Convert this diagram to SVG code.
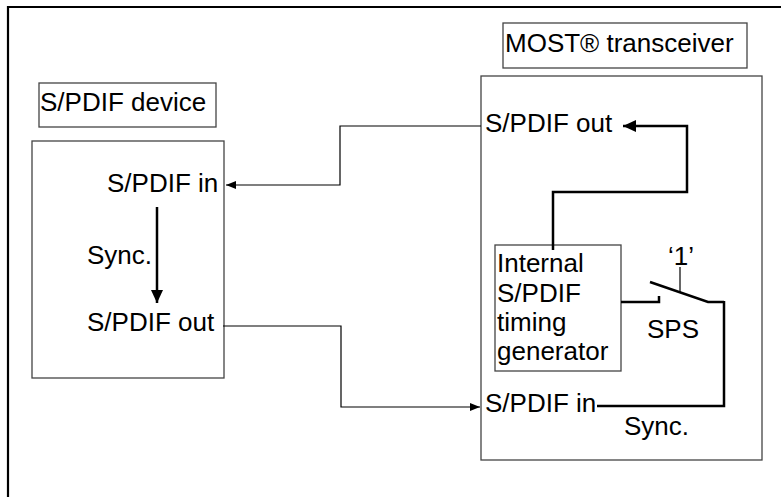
<svg xmlns="http://www.w3.org/2000/svg" width="781" height="497" viewBox="0 0 781 497">
<style>
text{font-family:"Liberation Sans",Arial,sans-serif;font-size:26px;fill:#000}
.box{fill:none;stroke:#444;stroke-width:1.3}
.thin{fill:none;stroke:#000;stroke-width:1.2}
.thick{fill:none;stroke:#000;stroke-width:2.5}
</style>
<defs>
<marker id="ah" markerWidth="10" markerHeight="8" refX="10" refY="4" orient="auto" markerUnits="userSpaceOnUse"><path d="M0,0 L10,4 L0,8 Z" fill="#000"/></marker>
<marker id="ahb" markerWidth="13" markerHeight="12" refX="13" refY="6" orient="auto" markerUnits="userSpaceOnUse"><path d="M0,0 L13,6 L0,12 Z" fill="#000"/></marker>
</defs>
<rect width="781" height="497" fill="#fff"/>
<path d="M8,497 V7 H781" fill="none" stroke="#000" stroke-width="2.2"/>
<g id="device-label"><rect class="box" x="39" y="83" width="177" height="44"/><text x="40" y="111">S/PDIF device</text></g>
<g id="device"><rect class="box" x="32" y="141" width="192" height="237"/>
<text x="107" y="192">S/PDIF in</text>
<text x="87" y="264">Sync.</text>
<text x="87" y="331">S/PDIF out</text></g>
<g id="transceiver-label"><rect class="box" x="503" y="23" width="244" height="45"/><text x="505" y="52">MOST® transceiver</text></g>
<g id="transceiver"><rect class="box" x="481" y="76" width="281" height="384"/>
<text x="485" y="132">S/PDIF out</text>
<text x="485" y="412">S/PDIF in</text>
<text x="624" y="435">Sync.</text>
<text x="647" y="338">SPS</text>
<text x="668" y="265">‘1’</text></g>
<g id="timing-generator"><rect class="box" x="495" y="245" width="126" height="126"/>
<text x="497" y="272">Internal</text>
<text x="497" y="302">S/PDIF</text>
<text x="497" y="331">timing</text>
<text x="497" y="360">generator</text></g>
<g id="switch">
<path class="thick" d="M621,302 H659 V296"/>
<path class="thick" d="M650,282 L708,302 H724"/>
<path class="thin" d="M680,267 V292"/>
</g>
<g id="connectors">
<path class="thin" d="M481,126 H340 V185 H226" marker-end="url(#ah)"/>
<path class="thin" d="M223,326 H341 V407 H480" marker-end="url(#ah)"/>
<path class="thick" d="M157,207 V303" marker-end="url(#ahb)"/>
<path class="thick" d="M553,250 V192 H687 V126 H623" marker-end="url(#ahb)"/>
<path class="thick" d="M597,406 H724 V301"/>
</g>
</svg>
